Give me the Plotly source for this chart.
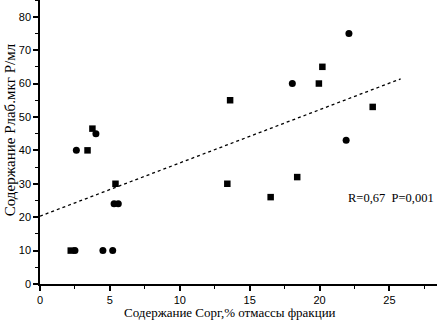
import plotly.graph_objects as go

# Series
square_x = [2.2, 3.4, 3.75, 5.4, 13.6, 13.4, 19.95, 20.2, 23.8, 18.4, 16.5]
square_y = [10, 40, 46.5, 30, 55, 30, 60, 65, 53, 32, 26]
circle_x = [2.5, 4.5, 5.2, 2.6, 4.0, 5.3, 5.6, 18.05, 22.1, 21.9]
circle_y = [10, 10, 10, 40, 45, 24, 24, 60, 75, 43]

trend_x = [0, 25.8]
trend_y = [20.3, 61.4]

x_title = "Содержание Сорг,% отмассы фракции"
y_title = "Содержание Рлаб.мкг Р/мл"
stat_text = "R=0,67  P=0,001"

fig = go.Figure()
fig.add_trace(go.Scatter(x=trend_x, y=trend_y, mode="lines",
                         line=dict(color="black", width=1.3, dash="dot"),
                         showlegend=False, hoverinfo="skip"))
fig.add_trace(go.Scatter(x=square_x, y=square_y, mode="markers",
                         marker=dict(symbol="square", size=6.5, color="black"),
                         showlegend=False))
fig.add_trace(go.Scatter(x=circle_x, y=circle_y, mode="markers",
                         marker=dict(symbol="circle", size=7, color="black"),
                         showlegend=False))

fig.add_annotation(x=28.35, y=25.7, xanchor="right", text=stat_text, showarrow=False,
                   font=dict(family="Liberation Serif", size=12.5, color="black"))
fig.add_annotation(xref="paper", yref="paper", x=0.479, y=-0.102, yanchor="middle",
                   text=x_title, showarrow=False,
                   font=dict(family="Liberation Serif", size=13, color="black"))
fig.add_annotation(xref="paper", yref="paper", x=-0.0756, y=0.545, xanchor="center",
                   yanchor="middle", textangle=-90, text=y_title, showarrow=False,
                   font=dict(family="Liberation Serif", size=15, color="black"))

axis_common = dict(showgrid=False, zeroline=False, showline=True, automargin=False,
                   linecolor="black", linewidth=1.5, ticks="outside",
                   ticklen=5, tickwidth=1.5, tickcolor="black",
                   tickfont=dict(family="Liberation Sans", size=11, color="black"))

fig.update_xaxes(range=[0, 28.4], dtick=5, tick0=0,
                 minor=dict(ticks="outside", ticklen=3, dtick=2.5, tickcolor="black", tickwidth=1),
                 **axis_common)
fig.update_yaxes(range=[0, 85], dtick=10, tick0=0,
                 minor=dict(ticks="outside", ticklen=3, dtick=5, tickcolor="black", tickwidth=1),
                 **axis_common)

fig.update_layout(width=437, height=320, margin=dict(l=40, r=0, t=0, b=36),
                  plot_bgcolor="white", paper_bgcolor="white")

fig.write_html("out.html", config={"displayModeBar": False},
               post_script="document.body.style.margin='0';document.body.style.overflow='hidden';")
